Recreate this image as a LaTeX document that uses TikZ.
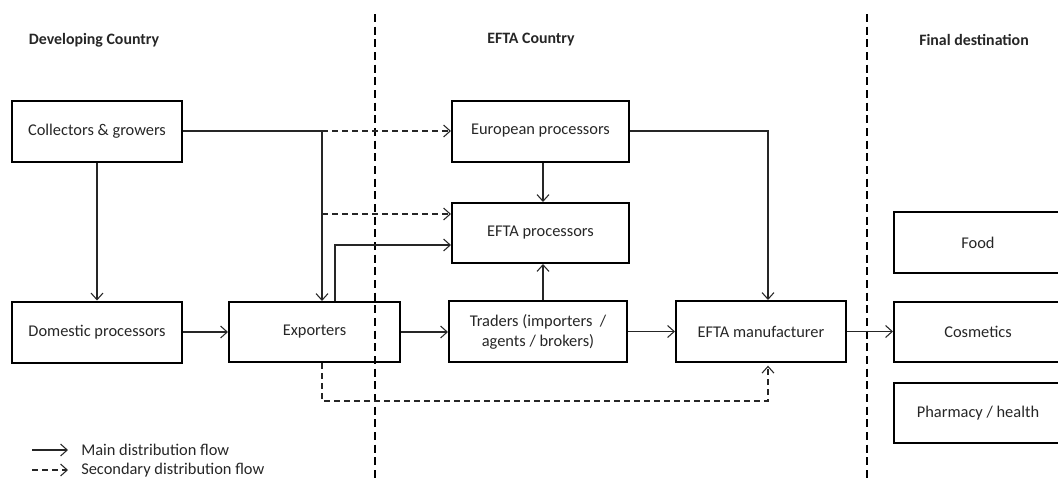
\documentclass[tikz,border=0pt]{standalone}
\usepackage{fontspec}
\setmainfont{Carlito}
\usetikzlibrary{arrows.meta}
\tikzset{
  box/.style={draw=black, line width=1.5pt, rectangle, align=center, inner sep=2pt,
              font=\fontsize{12.3}{15}\selectfont, text=black!85},
  main/.style={draw=black!85, line width=0.8pt, -{Straight Barb[length=5pt,width=9pt,line width=0.8pt]}},
  plain/.style={draw=black!85, line width=0.8pt},
  sec/.style={main, dash pattern=on 4.5pt off 3pt},
  divider/.style={draw=black, line width=0.8pt, dash pattern=on 6pt off 3.5pt},
  hdr/.style={font=\bfseries\fontsize{11.9}{14}\selectfont, inner sep=0pt, text=black!85},
  leg/.style={font=\fontsize{12.3}{14}\selectfont, inner sep=0pt, anchor=west, text=black!85},
}
\begin{document}
\begin{tikzpicture}[x=0.75pt, y=-0.75pt]
\useasboundingbox (0,0) rectangle (1058,480);
\clip (0,0) rectangle (1058,480);

% headers
\node[hdr] (h1) at (94,40) {Developing Country};
\node[hdr] (h2) at (531,40) {EFTA Country};
\node[hdr] (h3) at (974,40) {Final destination};

% dividers
\coordinate (v1t) at (375,14);
\coordinate (v1b) at (375,482);
\coordinate (v2t) at (867,14);
\coordinate (v2b) at (867,482);
\draw[divider] (v1t) -- (v1b);
\draw[divider] (v2t) -- (v2b);

% boxes
\node[box, minimum width=127.5pt, minimum height=45.75pt] (coll) at (97,131) {Collectors \& growers};
\node[box, minimum width=132.75pt, minimum height=45.75pt] (eurp) at (540.5,131) {European processors};
\node[box, minimum width=132.75pt, minimum height=45pt] (eftap) at (540.5,233) {EFTA processors};
\node[box, minimum width=127.5pt, minimum height=45.75pt] (dom) at (97,332) {Domestic processors};
\node[box, minimum width=128.25pt, minimum height=45pt] (exp) at (314.5,332) {Exporters};
\node[box, minimum width=133.5pt, minimum height=45.75pt] (trad) at (538,331.5) {Traders (importers~~/\\agents / brokers)};
\node[box, minimum width=127.5pt, minimum height=45.75pt] (man) at (761,331.5) {EFTA manufacturer};
\node[box, minimum width=126pt, minimum height=45.75pt] (food) at (978,242.5) {Food};
\node[box, minimum width=126pt, minimum height=45pt] (cosm) at (978,331.5) {Cosmetics};
\node[box, minimum width=126pt, minimum height=45pt] (pharm) at (978,413) {Pharmacy / health};

% helper coordinates
\coordinate (cx) at (322,0);
\coordinate (d2) at (322,214);
\coordinate (e2) at (335,245);
\coordinate (tx) at (543,0);
\coordinate (mx) at (768,0);
\coordinate (by) at (0,401);

% connectors
\draw[plain] (coll.east) -- (coll.east -| cx);
\draw[main] (coll.east -| cx) -- (exp.north -| cx);
\draw[sec] (coll.east -| cx) -- (eurp.west);
\draw[sec] (d2) -- (d2 -| eftap.west);
\draw[main] (coll.south) -- (dom.north);
\draw[main] (exp.north -| e2) -- (e2) -- (e2 -| eftap.west);
\draw[main] (dom.east) -- (exp.west);
\draw[main] (exp.east) -- (exp.east -| trad.west);
\draw[main] (trad.east) -- (trad.east -| man.west);
\draw[main] (man.east) -- (man.east -| cosm.west);
\draw[main] (trad.north -| tx) -- (eftap.south -| tx);
\draw[main] (eurp.south -| tx) -- (eftap.north -| tx);
\draw[main] (eurp.east) -- (eurp.east -| mx) -- (man.north -| mx);
\draw[sec] (exp.south -| cx) -- (cx |- by) -- (mx |- by) -- ([yshift=-2pt]man.south -| mx);

% legend
\coordinate (l1a) at (32,450);
\coordinate (l1b) at (68,450);
\coordinate (l2a) at (32,470);
\coordinate (l2b) at (68,470);
\draw[main] (l1a) -- (l1b);
\draw[sec] (l2a) -- (l2b);
\node[leg] (l1t) at (81,450) {Main distribution flow};
\node[leg] (l2t) at (81,470) {Secondary distribution flow};
\end{tikzpicture}
\end{document}
